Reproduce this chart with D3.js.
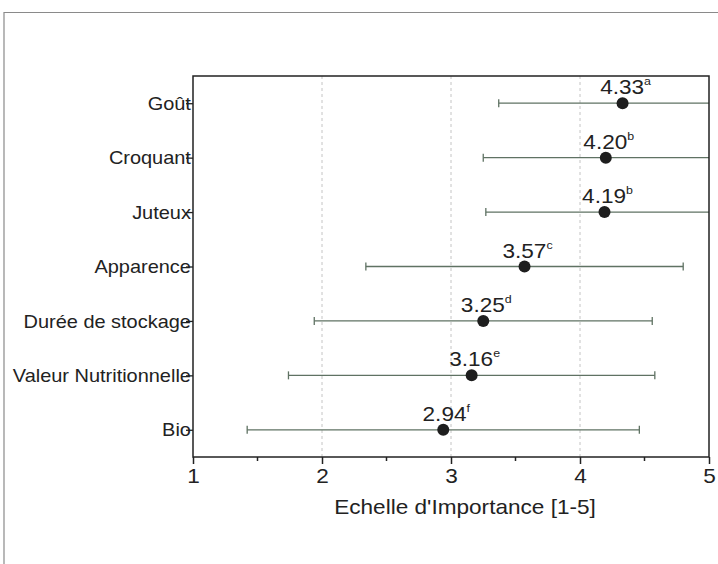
<!DOCTYPE html>
<html>
<head>
<meta charset="utf-8">
<script src="https://cdn.jsdelivr.net/npm/d3@7"></script>
<style>
  body { margin: 0; background: #fff; }
  svg text { font-family: "Liberation Sans", Arial, sans-serif; fill: #222; }
</style>
</head>
<body>
<svg id="chart" width="718" height="564"></svg>
<script>
// values
var categories = ["Goût", "Croquant", "Juteux", "Apparence", "Durée de stockage", "Valeur Nutritionnelle", "Bio"];
var means = [4.33, 4.20, 4.19, 3.57, 3.25, 3.16, 2.94];
var sds = [0.96, 0.95, 0.92, 1.23, 1.31, 1.42, 1.52];
var letters = ["a", "b", "b", "c", "d", "e", "f"];
var xTicks = [1, 2, 3, 4, 5];

var svg = d3.select("#chart");
// plot box (note: "top" is reserved on window, so use prefixed names)
var pL = 193, pR = 709, pT = 76, pB = 457;
var stretch = "scale(1.13,1)";  // the scanned figure's lettering is a bit wide

// outer frame of the scanned page
svg.append("path")
  .attr("d", "M4,564V12.5H718")
  .attr("fill", "none")
  .attr("stroke", "#8a8a8a")
  .attr("stroke-width", 1.2);

var x = d3.scaleLinear().domain([1, 5]).range([pL, pR]);
var y = d3.scalePoint().domain(categories).range([pT, pB]).padding(0.5);

svg.append("defs").append("clipPath").attr("id", "plotClip")
  .append("rect")
    .attr("x", pL).attr("y", pT)
    .attr("width", pR - pL).attr("height", pB - pT);

/* dashed grid lines at the inner integer ticks */
svg.append("g")
  .selectAll("line")
  .data(xTicks.slice(1, -1))
  .join("line")
    .attr("x1", d => x(d)).attr("x2", d => x(d))
    .attr("y1", pT).attr("y2", pB)
    .attr("stroke", "#c4c4c4")
    .attr("stroke-dasharray", "3,3");

var rows = categories.map(function (c, i) {
  return { cat: c, mean: means[i], sd: sds[i], letter: letters[i] };
});

/* error bars, clipped to the plot box */
var bars = svg.append("g").attr("clip-path", "url(#plotClip)")
  .attr("stroke", "#5f7263").attr("stroke-width", 1.3);

bars.selectAll("line.bar")
  .data(rows)
  .join("line")
    .attr("class", "bar")
    .attr("x1", d => x(d.mean - d.sd)).attr("x2", d => x(d.mean + d.sd))
    .attr("y1", d => y(d.cat)).attr("y2", d => y(d.cat));

bars.selectAll("line.capL")
  .data(rows)
  .join("line")
    .attr("class", "capL")
    .attr("x1", d => x(d.mean - d.sd)).attr("x2", d => x(d.mean - d.sd))
    .attr("y1", d => y(d.cat) - 4).attr("y2", d => y(d.cat) + 4);

bars.selectAll("line.capR")
  .data(rows)
  .join("line")
    .attr("class", "capR")
    .attr("x1", d => x(d.mean + d.sd)).attr("x2", d => x(d.mean + d.sd))
    .attr("y1", d => y(d.cat) - 4).attr("y2", d => y(d.cat) + 4);

/* mean points */
svg.append("g")
  .selectAll("circle")
  .data(rows)
  .join("circle")
    .attr("cx", d => x(d.mean))
    .attr("cy", d => y(d.cat))
    .attr("r", 6)
    .attr("fill", "#1e1e1e");

/* value labels with the significance letter as a superscript */
var vl = svg.append("g")
  .selectAll("g")
  .data(rows)
  .join("g")
    .attr("transform", d => "translate(" + (x(d.mean) + 3) + "," + (y(d.cat) - 9) + ")")
  .append("text")
    .attr("transform", stretch)
    .attr("text-anchor", "middle")
    .attr("font-size", 20);
vl.append("tspan").text(d => d.mean.toFixed(2));
vl.append("tspan")
  .attr("dy", -9)
  .attr("font-size", 11)
  .text(d => d.letter);

/* plot frame */
svg.append("rect")
  .attr("x", pL).attr("y", pT)
  .attr("width", pR - pL).attr("height", pB - pT)
  .attr("fill", "none")
  .attr("stroke", "#222")
  .attr("stroke-width", 1.5);

/* bottom axis: major ticks with labels, minor ticks at the halves */
var xAxis = svg.append("g")
  .attr("transform", "translate(0," + pB + ")")
  .call(d3.axisBottom(x).tickValues(xTicks).tickFormat(d3.format("d")).tickSize(7).tickPadding(5));
xAxis.select(".domain").remove();
xAxis.selectAll("line").attr("stroke", "#222").attr("stroke-width", 1.5);
xAxis.selectAll("text").attr("font-size", 20).attr("font-family", null).attr("fill", "#222")
  .attr("transform", stretch);

svg.append("g")
  .selectAll("line")
  .data([1.5, 2.5, 3.5, 4.5])
  .join("line")
    .attr("x1", d => x(d)).attr("x2", d => x(d))
    .attr("y1", pB).attr("y2", pB + 4)
    .attr("stroke", "#222").attr("stroke-width", 1.5);

/* left axis with the category names */
var yAxis = svg.append("g")
  .attr("transform", "translate(" + pL + ",0)")
  .call(d3.axisLeft(y).tickSize(7).tickPadding(-5));
yAxis.select(".domain").remove();
yAxis.selectAll("line").attr("stroke", "#222").attr("stroke-width", 1.3);
yAxis.selectAll("text").attr("font-size", 19).attr("font-family", null).attr("fill", "#222")
  .attr("transform", "scale(1.05,1)");

svg.append("g")
  .attr("transform", "translate(465,514)")
  .append("text")
    .attr("transform", stretch)
    .attr("text-anchor", "middle")
    .attr("font-size", 20)
    .text("Echelle d'Importance [1-5]");
</script>
</body>
</html>
